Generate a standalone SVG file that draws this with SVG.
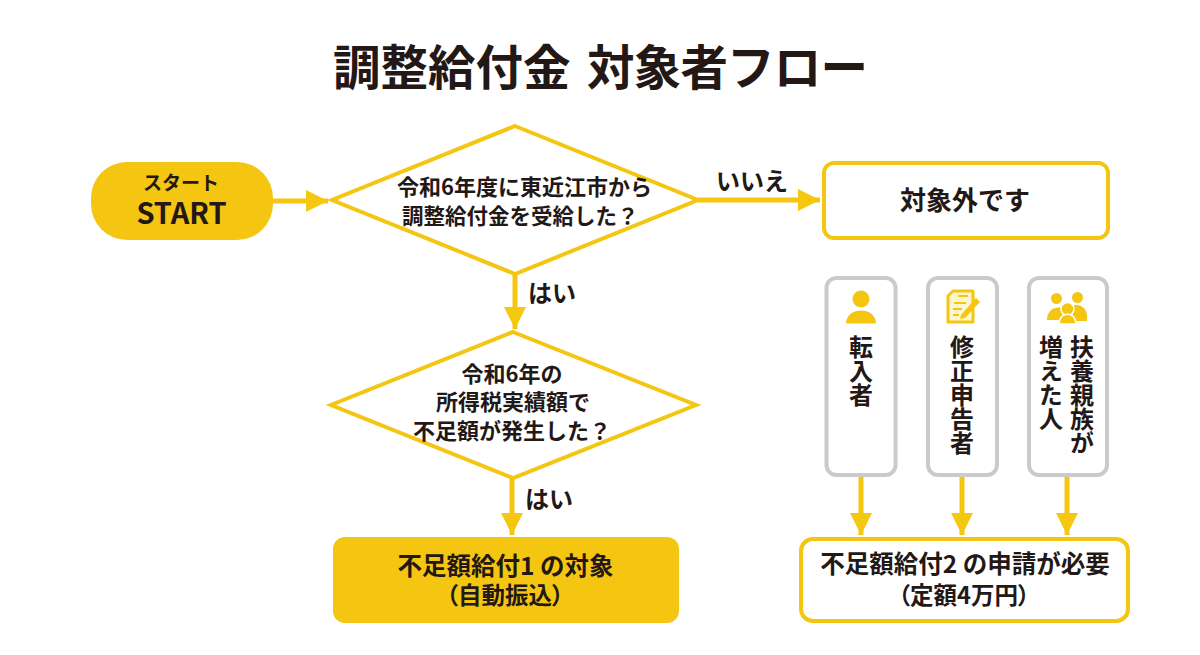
<svg xmlns="http://www.w3.org/2000/svg" width="1200" height="655" viewBox="0 0 1200 655">
<defs>
<marker id="ah" markerUnits="userSpaceOnUse" markerWidth="24" markerHeight="24" refX="22" refY="12" orient="auto"><path d="M0 1L22 12L0 23Z" fill="#f5c70f"/></marker>
</defs>
<style>
text{font-family:"Noto Sans CJK JP","Noto Sans",sans-serif;font-weight:700;fill:#231815;text-anchor:middle}
.y{fill:#f4c612}
.w{fill:#fff;stroke:#f4c612;stroke-width:4}
.g{fill:#fff;stroke:#c9caca;stroke-width:4}
.c{fill:none;stroke:#f4c612;stroke-width:5;marker-end:url(#ah)}
.s{font-size:22px}
.p{font-size:23.500px;font-feature-settings:"palt"}
.v{font-size:24px;writing-mode:vertical-rl;text-anchor:start}
.l{fill:none;stroke:#f4c612;stroke-width:2}
</style>
<rect width="1200" height="655" fill="#fff"/>
<text font-size="47.500" style="text-anchor:start"><tspan x="333" y="85">調整給付金</tspan><tspan x="587" y="85" letter-spacing="-0.800">対象者フロー</tspan></text>
<g id="connectors">
<path class="c" d="M272 201H328"/>
<path class="c" d="M698 200H820"/>
<path class="c" d="M515 274V329"/>
<path class="c" d="M512 477V535"/>
<path class="c" d="M861 477V535"/>
<path class="c" d="M962 477V535"/>
<path class="c" d="M1067 477V535"/>
</g>
<text x="752" y="190" font-size="24">いいえ</text>
<text x="552" y="302" font-size="24">はい</text>
<text x="549" y="508" font-size="24">はい</text>
<g id="start"><rect class="y" x="91" y="162" width="182" height="78" rx="36"/><text x="181" y="190" font-size="19">スタート</text><text x="181.500" y="224" font-size="29">START</text></g>
<g id="q1"><path class="w" d="M515 126L698 200L515 274L332 200Z"/><text class="s" x="524.500" y="195">令和6年度に東近江市から</text><text x="402" y="224" font-size="21.500" style="text-anchor:start">調整給付金を受給した？</text></g>
<g id="out"><rect class="w" x="824" y="163" width="284" height="75" rx="10"/><text x="965" y="210" font-size="26">対象外です</text></g>
<g id="q2"><path class="w" d="M513 332L696 405L513 478L331 405Z"/><text class="s" x="512" y="382">令和6年の</text><text class="s" x="513" y="410">所得税実績額で</text><text class="s" x="512" y="439">不足額が発生した？</text></g>
<g id="b1"><rect class="y" x="333" y="537" width="346" height="86" rx="12"/><text x="505.500" y="575" font-size="24.500">不足額給付1 の対象</text><text class="p" x="505" y="604">（自動振込）</text></g>
<g id="b2"><rect class="w" x="801" y="539" width="327" height="82" rx="12"/><text x="965" y="573" font-size="24.500">不足額給付2 の申請が必要</text><text class="p" x="964" y="604">（定額4万円）</text></g>
<g id="p1"><rect class="g" x="826.500" y="278" width="69" height="197" rx="10"/><circle class="y" cx="861" cy="299" r="8.500"/><path class="y" d="M846 323.500C846 306 876 306 876 323.500Z"/><text class="v" x="861" y="335">転入者</text></g>
<g id="p2"><rect class="g" x="928" y="278" width="69" height="197" rx="10"/>
<path d="M953 291H973V322H948V296Z" fill="#fdf6d0" stroke="#f4c612" stroke-width="3" stroke-linejoin="round"/>
<path class="l" d="M954 303H966M953 309H962M953 315H959M958 296H968"/>
<path d="M961 315L976 298L980 302L965 318L960 319Z" fill="#f4c612"/>
<text class="v" x="962" y="335">修正申告者</text></g>
<g id="p3"><rect class="g" x="1029" y="278" width="78" height="197" rx="10"/>
<circle class="y" cx="1056.500" cy="298.500" r="5.500"/><circle class="y" cx="1077.500" cy="297.500" r="5.500"/>
<path class="y" d="M1047 320C1047 305 1065 305 1064 312L1060 320ZM1069 306C1085 302 1088 312 1087 321H1075Z"/>
<circle cx="1067.500" cy="309" r="6.500" class="y" stroke="#fff" stroke-width="1.500"/>
<path class="y" d="M1059 324C1059 311 1076 311 1076 324Z" stroke="#fff" stroke-width="1.500"/>
<text class="v" x="1082" y="335">扶養親族が</text><text class="v" x="1051" y="335">増えた人</text></g>
</svg>
